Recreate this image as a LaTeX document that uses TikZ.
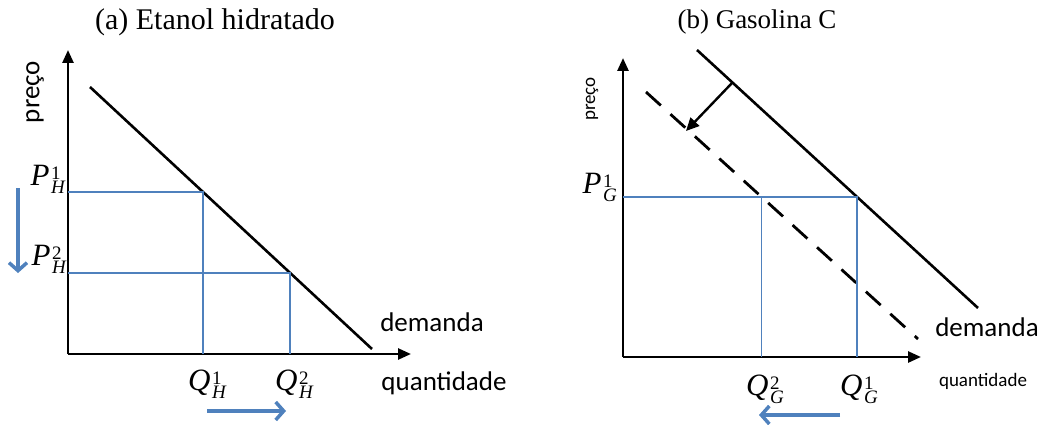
\documentclass[tikz,border=0pt]{standalone}
\usepackage{fontspec}
\setmainfont{Liberation Serif}
\newfontfamily\calib{Carlito}
\usetikzlibrary{arrows.meta}
\definecolor{ob}{RGB}{79,129,189}
\newcommand{\vlab}[3]{{\fontsize{31}{31}\selectfont\itshape #1}\kern1.5pt\raisebox{-8pt}{\fontsize{19}{19}\selectfont\begin{tabular}[b]{@{}l@{}}#3\\[-5pt]\itshape #2\end{tabular}}}
\begin{document}
\begin{tikzpicture}[x=1pt,y=-1pt,
  axis/.style={line width=2.6pt,-{Triangle[length=13pt,width=11pt]}},
  dem/.style={line width=2.6pt},
  dashdem/.style={line width=2.8pt,dash pattern=on 20pt off 13pt},
  guide/.style={ob,line width=1.2pt},
  barrow/.style={ob,line width=3.5pt,-{Straight Barb[length=8pt,width=18pt]}},
  shiftarrow/.style={line width=2.4pt,-{Triangle[length=13pt,width=12pt]}},
  slab/.style={font=\calib\fontsize{27}{30}\selectfont},
  sslab/.style={font=\calib\fontsize{19}{22}\selectfont},
  mlab/.style={inner sep=0pt}]
\useasboundingbox (0,0) rectangle (1046,425);
% ---------- panel (a) ----------
\node[font=\fontsize{30}{32}\selectfont] (ta) at (215,22) {(a) Etanol hidratado};
\coordinate (oa) at (68,354);
\coordinate (ya) at (68,50);
\coordinate (xa) at (411,354);
\draw[axis] (oa) -- (ya);
\draw[axis] (oa) -- (xa);
\coordinate (da1) at (90,87);
\coordinate (da2) at (372,349);
\draw[dem] (da1) -- (da2);
\coordinate (a1) at (203,192);
\coordinate (a2) at (290,273);
\draw[guide] (a1 -| oa) -- (a1) -- (a1 |- oa);
\draw[guide] (a2 -| oa) -- (a2) -- (a2 |- oa);
\node[slab,rotate=90] (pa) at (35,92) {preço};
\node[slab] (dmA) at (432,322) {demanda};
\node[slab] (qA) at (444,383) {quantidade};
\node[mlab,anchor=east] (ph1) at (65,182) {\vlab{P}{H}{1}};
\node[mlab,anchor=east] (ph2) at (66,262) {\vlab{P}{H}{2}};
\node[mlab] (qh1) at (207,387) {\vlab{Q}{H}{1}};
\node[mlab] (qh2) at (294,387) {\vlab{Q}{H}{2}};
\coordinate (dA1) at (18,188);
\coordinate (dA2) at (18,273);
\draw[barrow] (dA1) -- (dA2);
\coordinate (rA1) at (207,411);
\coordinate (rA2) at (286,411);
\draw[barrow] (rA1) -- (rA2);
% ---------- panel (b) ----------
\node[font=\fontsize{27}{30}\selectfont] (tb) at (757,22) {(b) Gasolina C};
\coordinate (ob0) at (623,357);
\coordinate (yb) at (623,58);
\coordinate (xb) at (921,357);
\draw[axis] (ob0) -- (yb);
\draw[axis] (ob0) -- (xb);
\coordinate (db1) at (697,50);
\coordinate (db2) at (978,308);
\draw[dem] (db1) -- (db2);
\coordinate (dd1) at (646,92);
\coordinate (dd2) at (918,339);
\draw[dashdem] (dd1) -- (dd2);
\coordinate (b1) at (857,197);
\coordinate (b2) at (761.6,197);
\draw[guide] (b1 -| ob0) -- (b1) -- (b1 |- ob0);
\draw[guide] (b2) -- (b2 |- ob0);
\coordinate (s1) at (732,83);
\coordinate (s2) at (686,131);
\draw[shiftarrow] (s1) -- (s2);
\node[sslab,rotate=90] (pb) at (592,99) {preço};
\node[slab] (dmB) at (987,327) {demanda};
\node[sslab] (qB) at (983,381) {quantidade};
\node[mlab,anchor=east] (pg1) at (617,190) {\vlab{P}{G}{1}};
\node[mlab] (qg2) at (765,392) {\vlab{Q}{G}{2}};
\node[mlab] (qg1) at (859,392) {\vlab{Q}{G}{1}};
\coordinate (lB1) at (840,415);
\coordinate (lB2) at (759,415);
\draw[barrow] (lB1) -- (lB2);
\end{tikzpicture}
\end{document}
